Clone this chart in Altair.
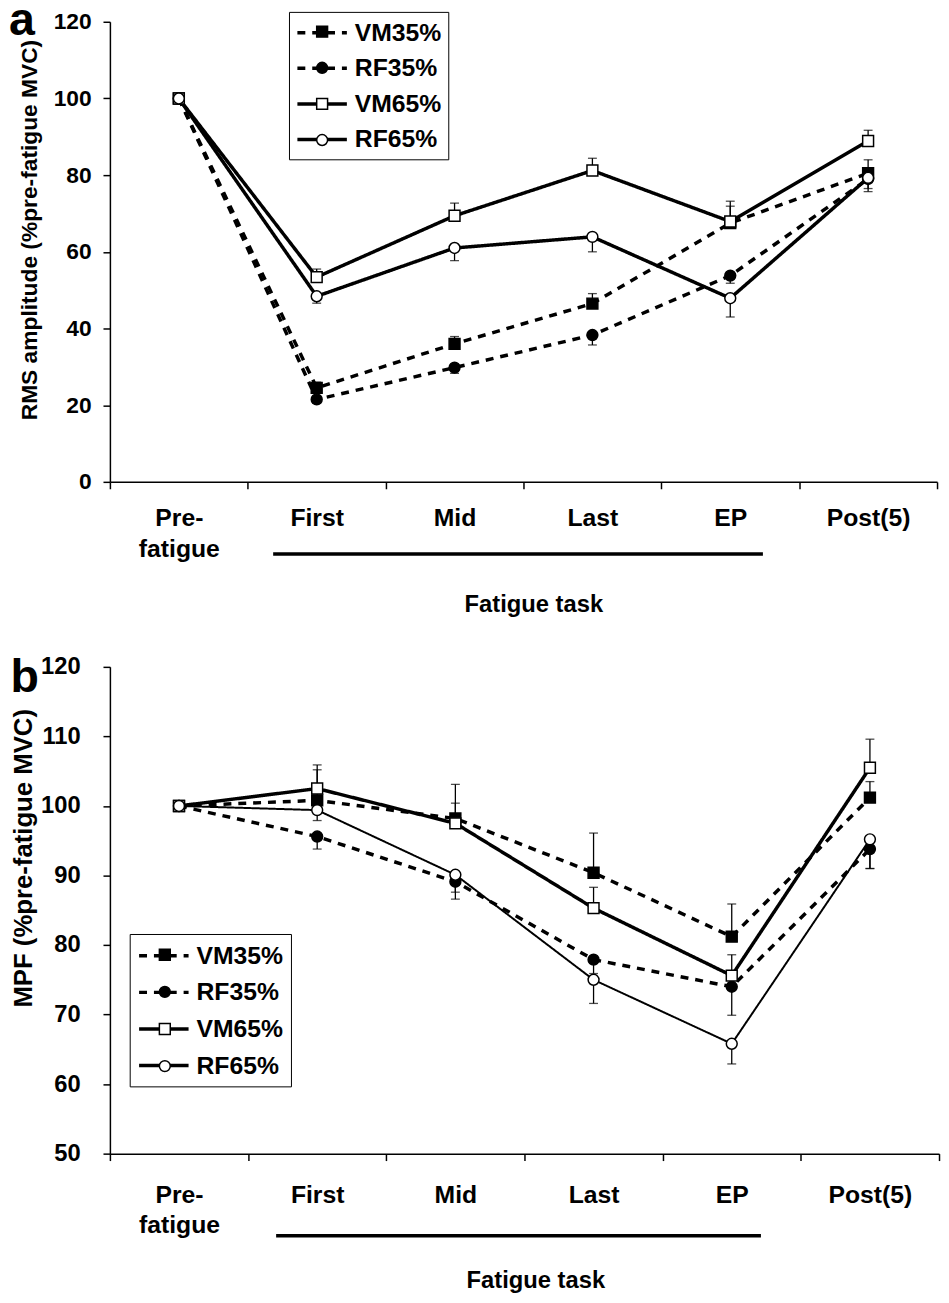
import altair as alt
import pandas as pd

FONT = "Liberation Sans"

stages = ["Pre-fatigue", "First", "Mid", "Last", "EP", "Post(5)"]
series_names = ["VM35%", "RF35%", "VM65%", "RF65%"]

# Panel a: RMS amplitude (% pre-fatigue MVC)
rms_vm35 = [100, 24.5, 36.0, 46.5, 67.5, 80.5]
rms_vm35_se = [0, 1.5, 1.9, 2.6, 4.4, 3.5]
rms_rf35 = [100, 21.5, 29.8, 38.3, 53.8, 79.0]
rms_rf35_se = [0, 1.0, 1.5, 2.6, 2.0, 2.5]
rms_vm65 = [100, 53.4, 69.4, 81.2, 67.9, 88.9]
rms_vm65_se = [0, 2.1, 3.3, 3.2, 5.3, 2.8]
rms_rf65 = [100, 48.4, 61.0, 63.9, 47.9, 79.3]
rms_rf65_se = [0, 1.8, 3.3, 3.9, 4.9, 3.6]

# Panel b: MPF (% pre-fatigue MVC)
mpf_vm35 = [100, 100.8, 98.2, 90.4, 81.2, 101.2]
mpf_vm35_se = [0, 4.4, 4.9, 5.7, 4.7, 2.3]
mpf_rf35 = [100, 95.6, 89.1, 77.9, 74.0, 93.8]
mpf_rf35_se = [0, 1.8, 2.5, 2.0, 4.1, 2.8]
mpf_vm65 = [100, 102.5, 97.5, 85.3, 75.6, 105.5]
mpf_vm65_se = [0, 3.4, 2.9, 3.0, 3.0, 4.1]
mpf_rf65 = [100, 99.4, 90.1, 75.0, 65.8, 95.2]
mpf_rf65_se = [0, 1.5, 2.5, 3.4, 2.9, 4.2]

rms_y_ticks = [0, 20, 40, 60, 80, 100, 120]
mpf_y_ticks = [50, 60, 70, 80, 90, 100, 110, 120]

marker_keys = [n + " " for n in series_names]


def build_df(means, ses):
    rows = []
    for name, key, m_list, s_list in zip(series_names, marker_keys, means, ses):
        sign = 1 if name.startswith("VM") else -1
        for stage, m, s in zip(stages, m_list, s_list):
            rows.append({"stage": stage, "series": name, "marker": key,
                         "value": m, "se": s, "end": m + sign * s})
    return pd.DataFrame(rows)


df_a = build_df([rms_vm35, rms_rf35, rms_vm65, rms_rf65],
                [rms_vm35_se, rms_rf35_se, rms_vm65_se, rms_rf65_se])
df_b = build_df([mpf_vm35, mpf_rf35, mpf_vm65, mpf_rf65],
                [mpf_vm35_se, mpf_rf35_se, mpf_vm65_se, mpf_rf65_se])

dashes = [[8, 7], [8, 7], [1, 0], [1, 0]]
shapes = ["square", "circle", "square", "circle"]
fills = ["black", "black", "white", "white"]
outlines = ["black", "black", "black", "black"]

# legend line symbol: a horizontal stroke twice as long as the symbol box
LINE_SYMBOL = "M-1,0H3"


def panel(df, width, y_domain, y_ticks, y_title, y_title_size, y_label_size,
          y_label_pad, y_title_pad, y_title_y, height, x_label_pad,
          x_title_pad, x_title_x, leg_x, leg2_x, leg_y, leg_pad, row_pad,
          thin_rf65, letter, letter_x, letter_y, ul_x, ul_x2, ul_y):
    x_axis = alt.Axis(
        title="Fatigue task",
        labelExpr="datum.label == 'Pre-fatigue' ? ['Pre-', 'fatigue'] : datum.label",
        labelAngle=0, labelFont=FONT, labelFontSize=25, labelFontWeight="bold",
        labelColor="black", labelLineHeight=31, labelPadding=x_label_pad,
        tickBand="extent", tickSize=7, tickWidth=1.5, tickColor="black",
        domainColor="black", domainWidth=1.5, grid=False,
        titleFont=FONT, titleFontSize=24, titleFontWeight="bold",
        titleColor="black", titlePadding=x_title_pad, titleX=x_title_x,
    )
    y_axis = alt.Axis(
        title=y_title, values=y_ticks, labelFont=FONT,
        labelFontSize=y_label_size, labelFontWeight="bold", labelColor="black",
        labelPadding=y_label_pad, tickSize=7, tickWidth=1.5, tickColor="black",
        domainColor="black", domainWidth=1.5, grid=False,
        titleFont=FONT, titleFontSize=y_title_size, titleFontWeight="bold",
        titleColor="black", titlePadding=y_title_pad, titleY=y_title_y,
    )
    x_enc = alt.X("stage:N", sort=stages,
                  scale=alt.Scale(type="band", paddingInner=0, paddingOuter=0),
                  axis=x_axis)
    y_scale = alt.Scale(domain=y_domain, nice=False, zero=False)

    leg_lines = alt.Legend(
        title=None, orient="none", legendX=leg_x, legendY=leg_y,
        direction="vertical", symbolType=LINE_SYMBOL,
        symbolSize=625, symbolStrokeWidth=3.5,
        symbolStrokeColor="black", labelFont=FONT, labelFontSize=25,
        labelFontWeight="bold", labelColor="black", labelOffset=31,
        rowPadding=row_pad, padding=leg_pad, strokeColor="black",
        fillColor="white", zindex=1, labelLimit=300,
    )
    # marker overlay: same rows as the line legend, symbols only
    leg_marks = alt.Legend(
        title=None, orient="none", legendX=leg2_x, legendY=leg_y + 1,
        direction="vertical", symbolSize=121, symbolStrokeColor="black",
        symbolFillColor="white", symbolStrokeWidth=1.5, symbolOpacity=1,
        labelFont=FONT, labelFontSize=25, labelFontWeight="bold",
        labelExpr="''", labelOpacity=0, labelOffset=6,
        rowPadding=row_pad + 2.5, padding=leg_pad, zindex=2, labelLimit=300,
    )

    base = alt.Chart(df)
    if thin_rf65:
        sw = alt.condition("datum.series == 'RF65%'", alt.value(2), alt.value(3.5))
    else:
        sw = alt.value(3.5)
    lines = base.mark_line(color="black").encode(
        x=x_enc,
        y=alt.Y("value:Q", scale=y_scale, axis=y_axis),
        strokeDash=alt.StrokeDash("series:N",
                                  scale=alt.Scale(domain=series_names, range=dashes),
                                  legend=leg_lines),
        strokeWidth=sw,
    )
    err = base.transform_filter("datum.se > 0")
    rules = err.mark_rule(color="black", strokeWidth=1.3).encode(
        x=x_enc,
        y=alt.Y("value:Q", scale=y_scale, axis=y_axis),
        y2="end:Q",
    )
    caps = err.mark_tick(color="black", thickness=1.3, size=9).encode(
        x=x_enc,
        y=alt.Y("end:Q", scale=y_scale, axis=y_axis),
    )
    points = base.mark_point(filled=True, strokeWidth=1.5, size=121,
                             opacity=1).encode(
        x=x_enc,
        y=alt.Y("value:Q", scale=y_scale, axis=y_axis),
        shape=alt.Shape("marker:N", scale=alt.Scale(domain=marker_keys, range=shapes),
                        legend=leg_marks),
        fill=alt.Fill("marker:N", scale=alt.Scale(domain=marker_keys, range=fills),
                      legend=leg_marks),
        stroke=alt.Stroke("marker:N", scale=alt.Scale(domain=marker_keys, range=outlines),
                          legend=leg_marks),
    )
    underline = alt.Chart(pd.DataFrame({"span": ["fatigue task"]})).mark_rule(
        color="black", strokeWidth=3.5
    ).encode(x=alt.value(ul_x), x2=alt.value(ul_x2), y=alt.value(ul_y))
    label = alt.Chart(pd.DataFrame({"letter": [letter]})).mark_text(
        font=FONT, fontSize=47, fontWeight="bold", color="black",
        align="center", baseline="alphabetic",
    ).encode(text="letter:N", x=alt.value(letter_x), y=alt.value(letter_y))

    return alt.layer(lines, rules, caps, points, underline, label).properties(
        width=width, height=height
    )


panel_a = panel(df_a, 836, [0, 120], rms_y_ticks, "RMS amplitude (%pre-fatigue MVC)",
                23, 23, 12, 12, 210, 465, 17, 32, 428,
                181, 195.5, -10, 6.5, 8, False,
                "a", -89, 13, 165, 660, 538)
panel_b = panel(df_b, 838, [50, 120], mpf_y_ticks, "MPF (%pre-fatigue MVC)",
                26, 24, 23, 4, 193, 492, 22, 31, 430,
                20, 35.5, 270, 7.5, 9, True,
                "b", -86, 25, 168, 658, 575)

chart = alt.vconcat(panel_a, panel_b, spacing=36).resolve_scale(
    strokeDash="independent", shape="independent", fill="independent",
    stroke="independent"
).properties(
    padding={"left": 0, "top": -19, "right": 0, "bottom": 0},
    background="white",
).configure_view(stroke="transparent")

chart.save("out.html", embed_options={"renderer": "svg", "actions": False})
